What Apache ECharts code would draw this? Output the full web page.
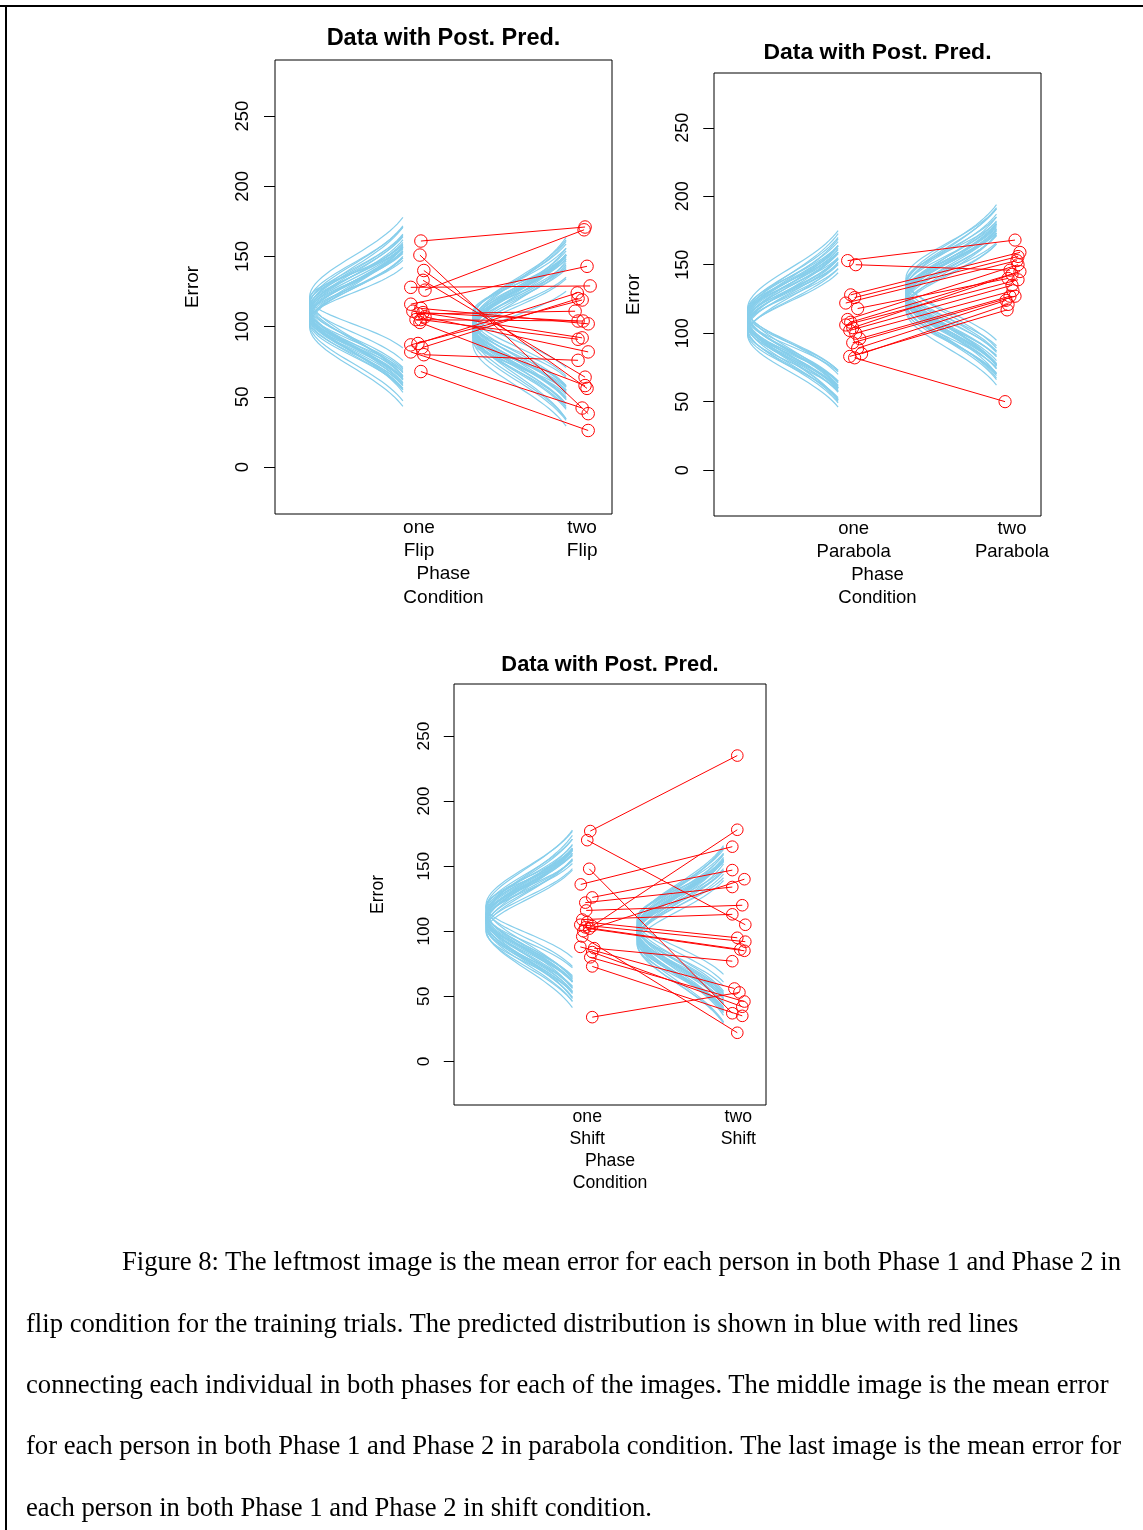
<!DOCTYPE html>
<html>
<head>
<meta charset="utf-8">
<script src="https://cdn.jsdelivr.net/npm/echarts@6/dist/echarts.min.js"></script>
<style>
html,body{margin:0;padding:0;background:#fff;}
#wrap{position:relative;width:1143px;height:1530px;overflow:hidden;background:#fff;}
#chart{position:absolute;left:0;top:0;width:1143px;height:1530px;}
.cap{position:absolute;font-family:"Liberation Serif","Times New Roman",serif;font-size:24px;line-height:24px;color:#000;white-space:nowrap;}
.rule{position:absolute;background:#000;}
</style>
</head>
<body>
<div id="wrap">
  <div id="chart"></div>
  <div class="rule" style="left:0;top:5px;width:1143px;height:2px;"></div>
  <div class="rule" style="left:5px;top:5px;width:1.5px;height:1525px;"></div>
  <div class="cap" id="cap1" style="left:122px;top:1249px;">Figure 8: The leftmost image is the mean error for each person in both Phase 1 and Phase 2 in</div>
  <div class="cap" id="cap2" style="left:26px;top:1311px;">flip condition for the training trials. The predicted distribution is shown in blue with red lines</div>
  <div class="cap" id="cap3" style="left:26px;top:1372px;">connecting each individual in both phases for each of the images. The middle image is the mean error</div>
  <div class="cap" id="cap4" style="left:26px;top:1433px;">for each person in both Phase 1 and Phase 2 in parabola condition. The last image is the mean error for</div>
  <div class="cap" id="cap5" style="left:26px;top:1495px;">each person in both Phase 1 and Phase 2 in shift condition.</div>
</div>
<script>
// ---------------- data ----------------
const phaseLabels = ['one', 'two'];
const conditionLabels = ['Flip', 'Parabola', 'Shift'];
const yTickValues = [0, 50, 100, 150, 200, 250];
const titleText = 'Data with Post. Pred.';
const yAxisTitle = 'Error';
const xAxisTitleLines = ['Phase', 'Condition'];

// Flip condition: mean error per person, phase one -> phase two (paired)
const flipPhaseOne = [161,126,151,140,133,128,116,113,111,110,109,107,105,105,103,88,87,85,82,80,68];
const flipPhaseTwo = [171,169,38,56,64,129,143,102,92,104,111,82,104,91,58,124,119,120,42,76,26];
const flipJitterOne = [0.012,0.037,0.006,0.03,0.025,-0.05,-0.05,0.012,-0.037,0.025,-0.006,0.037,-0.018,0.012,0.006,-0.006,-0.05,0.018,-0.05,0.03,0.012];
const flipJitterTwo = [0.018,0.012,0.037,0.03,0.018,0.049,0.03,0.037,0,-0.025,-0.043,0.037,0.006,-0.025,0.018,-0.03,0,-0.025,0,-0.025,0.037];

// Parabola condition
const parabolaPhaseOne = [153,150,128,126,122,118,110,108,106,104,102,100,96,93,89,85,83,82];
const parabolaPhaseTwo = [168,146,159,156,153,140,150,145,139,143,135,131,127,127,124,121,117,50];
const parabolaJitterOne = [-0.038,0.013,-0.019,0.006,-0.05,0.025,-0.038,-0.019,-0.05,-0.006,-0.025,0.013,0.038,-0.006,0.025,0.05,-0.025,0.006];
const parabolaJitterTwo = [0.019,-0.013,0.05,0.038,0.031,-0.025,0.038,0.05,0.038,0,0,0.006,-0.013,0.019,-0.038,-0.025,-0.031,-0.044];

// Shift condition
const shiftPhaseOne = [177,170,148,136,126,122,116,109,107,105,104,103,102,100,96,88,87,84,80,73,34];
const shiftPhaseTwo = [235,105,37,165,147,134,120,113,95,92,178,86,85,140,22,56,77,42,46,35,53];
const shiftJitterOne = [0.02,0,0.013,-0.043,0.033,-0.013,-0.007,-0.033,0,-0.046,0.033,-0.013,0.013,-0.026,-0.033,-0.046,0.046,0.033,0.02,0.033,0.033];
const shiftJitterTwo = [-0.007,0.046,-0.04,-0.04,-0.04,-0.04,0.026,-0.04,-0.007,0.046,-0.007,0.013,0.04,0.04,-0.007,-0.026,-0.04,0.026,0.04,0.026,0.007];

// Posterior predictive curves (mean, sd) per phase, estimated from the drawn bundles
const flipPredMuOne = [110,106,114,118,102,120,108,112,104,116,109,111,107,113,105,115,103,117,110,108,121,100,112,106,111,109,113,107];
const flipPredSdOne = [24,26,22,27,28,18,20,30,23,25,27,21,25,26,19,29,24,21,28,23,29,29,24,22,25,23,27,24];
const flipPredMuTwo = [100,96,104,92,108,98,102,94,106,90,99,103,97,101,95,110,93,105,100,98,88,107,96,102,99,101,97,103];
const flipPredSdTwo = [26,28,24,30,22,22,30,25,27,18,33,20,24,27,31,20,21,29,23,27,30,25,20,25,26,24,28,23];

const parabolaPredMuOne = [108,112,104,116,110,106,114,100,118,109,103,111,107,113,105,115,101,117,110,108,99,112,106,114,109,111,107,113];
const parabolaPredSdOne = [26,24,28,22,30,21,27,24,29,23,26,20,29,25,23,28,22,24,26,22,27,31,25,21,25,27,24,26];
const parabolaPredMuTwo = [128,124,132,120,136,126,130,122,134,118,138,127,131,125,129,123,133,121,135,128,140,117,126,132,129,127,130,125];
const parabolaPredSdTwo = [26,24,28,23,25,30,22,27,29,24,22,25,31,21,27,29,24,26,30,23,26,28,25,21,25,27,24,26];

const shiftPredMuOne = [110,106,114,102,118,108,112,104,116,100,120,109,111,107,113,105,115,103,117,110,108,119,101,112,109,111,107,113];
const shiftPredSdOne = [27,29,25,31,23,24,30,26,28,24,29,22,32,27,21,30,26,23,31,25,30,20,28,26,27,25,28,26];
const shiftPredMuTwo = [100,96,104,92,108,98,102,94,106,90,100,103,97,101,95,110,93,105,99,98,91,107,96,102,99,101,97,103];
const shiftPredSdTwo = [28,30,26,32,24,25,32,27,29,25,33,23,29,27,33,22,26,31,24,30,31,27,23,29,28,27,30,26];

// ---------------- layout ----------------
const Y_MIN = -33.5, Y_MAX = 290, X_MIN = 0.118, X_MAX = 2.183;
const FONT = '"Liberation Sans", Arial, sans-serif';
const panels = [
  { cond: conditionLabels[0], one: flipPhaseOne, two: flipPhaseTwo, j1: flipJitterOne, j2: flipJitterTwo,
    muA: flipPredMuOne, sdA: flipPredSdOne, muB: flipPredMuTwo, sdB: flipPredSdTwo,
    box: { left: 275, top: 60, width: 337, height: 454 }, s: 1 },
  { cond: conditionLabels[1], one: parabolaPhaseOne, two: parabolaPhaseTwo, j1: parabolaJitterOne, j2: parabolaJitterTwo,
    muA: parabolaPredMuOne, sdA: parabolaPredSdOne, muB: parabolaPredMuTwo, sdB: parabolaPredSdTwo,
    box: { left: 714, top: 73, width: 327, height: 443 }, s: 0.976 },
  { cond: conditionLabels[2], one: shiftPhaseOne, two: shiftPhaseTwo, j1: shiftJitterOne, j2: shiftJitterTwo,
    muA: shiftPredMuOne, sdA: shiftPredSdOne, muB: shiftPredMuTwo, sdB: shiftPredSdTwo,
    box: { left: 454, top: 684, width: 312, height: 421 }, s: 0.93 }
];

// sideways normal density between the 2.5% and 97.5% quantiles, peak width 0.67 x-units
function densityCurve(mu, sd, xCenter) {
  const pts = [];
  for (let i = 0; i <= 48; i++) {
    const z = -1.96 + 3.92 * i / 48;
    pts.push([xCenter - 0.67 * Math.exp(-z * z / 2), mu + z * sd]);
  }
  return pts;
}

const grids = [], xAxes = [], yAxes = [], series = [], graphics = [];
panels.forEach((p, k) => {
  const b = p.box, s = p.s;
  grids.push({ left: b.left, top: b.top, width: b.width, height: b.height, show: true,
    borderColor: '#000', borderWidth: 1, backgroundColor: 'transparent' });
  xAxes.push({ type: 'value', gridIndex: k, min: X_MIN, max: X_MAX,
    axisLine: { show: false }, splitLine: { show: false }, axisTick: { show: false },
    axisLabel: { customValues: [1, 2], margin: 2 * s, color: '#000', fontFamily: FONT,
      fontSize: 19 * s, lineHeight: 23 * s,
      formatter: v => phaseLabels[Math.round(v) - 1] + '\n' + p.cond } });
  yAxes.push({ type: 'value', gridIndex: k, min: Y_MIN, max: Y_MAX,
    axisLine: { show: false }, splitLine: { show: false },
    axisTick: { show: true, customValues: yTickValues, length: 11 * s, lineStyle: { color: '#000', width: 1 } },
    axisLabel: { customValues: yTickValues, rotate: 90, margin: 23 * s, color: '#000',
      fontFamily: FONT, fontSize: 18.5 * s } });

  const curves = [];
  p.muA.forEach((m, i) => curves.push({ coords: densityCurve(m, p.sdA[i], 1) }));
  p.muB.forEach((m, i) => curves.push({ coords: densityCurve(m, p.sdB[i], 2) }));
  series.push({ type: 'lines', coordinateSystem: 'cartesian2d', xAxisIndex: k, yAxisIndex: k,
    polyline: true, silent: true, z: 2,
    lineStyle: { color: '#87CEEB', width: 1.2, opacity: 1 }, data: curves });

  const pairs = p.one.map((v, i) => ({ coords: [[1 + p.j1[i], v], [2 + p.j2[i], p.two[i]]] }));
  series.push({ type: 'lines', coordinateSystem: 'cartesian2d', xAxisIndex: k, yAxisIndex: k,
    silent: true, z: 3, lineStyle: { color: '#FF0000', width: 1, opacity: 1 }, data: pairs });

  const pts = [];
  p.one.forEach((v, i) => pts.push([1 + p.j1[i], v]));
  p.two.forEach((v, i) => pts.push([2 + p.j2[i], v]));
  series.push({ type: 'scatter', xAxisIndex: k, yAxisIndex: k, z: 4, silent: true,
    symbol: 'circle', symbolSize: 12.5 * s,
    itemStyle: { color: 'rgba(255,255,255,0)', borderColor: '#FF0000', borderWidth: 1, opacity: 1 },
    data: pts });

  const cx = b.left + b.width / 2;
  graphics.push({ type: 'text', x: cx, y: b.top - 21 * s, silent: true,
    style: { text: titleText, fill: '#000', font: 'bold ' + (23.5 * s) + 'px ' + FONT,
      align: 'center', verticalAlign: 'middle' } });
  graphics.push({ type: 'text', x: b.left - 82 * s, y: b.top + b.height / 2, rotation: Math.PI / 2, silent: true,
    style: { text: yAxisTitle, fill: '#000', font: (19 * s) + 'px ' + FONT, align: 'center', verticalAlign: 'middle' } });
  graphics.push({ type: 'text', x: cx, y: b.top + b.height + 60 * s, silent: true,
    style: { text: xAxisTitleLines[0], fill: '#000', font: (19 * s) + 'px ' + FONT, align: 'center', verticalAlign: 'middle' } });
  graphics.push({ type: 'text', x: cx, y: b.top + b.height + 84 * s, silent: true,
    style: { text: xAxisTitleLines[1], fill: '#000', font: (19 * s) + 'px ' + FONT, align: 'center', verticalAlign: 'middle' } });
});

const chart = echarts.init(document.getElementById('chart'), null, { renderer: 'canvas' });
chart.setOption({
  animation: false,
  backgroundColor: 'transparent',
  grid: grids, xAxis: xAxes, yAxis: yAxes, series: series, graphic: graphics
});

// fit caption font so the first line spans the reference width
(function () {
  const c = document.createElement('canvas').getContext('2d');
  c.font = '100px "Liberation Serif"';
  const w = c.measureText(document.getElementById('cap1').textContent).width;
  const fs = 100 * 1000 / w;
  document.querySelectorAll('.cap').forEach(el => { el.style.fontSize = fs + 'px'; });
})();
</script>
</body>
</html>
